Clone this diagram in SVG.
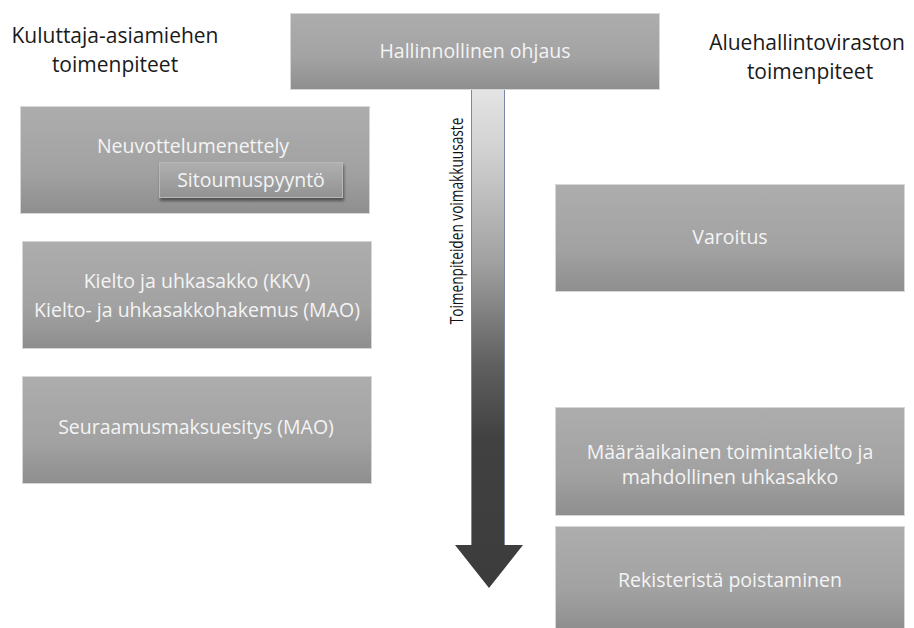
<svg xmlns="http://www.w3.org/2000/svg" width="914" height="628" viewBox="0 0 914 628">
<defs>
<linearGradient id="boxg" x1="0" y1="0" x2="0" y2="1">
<stop offset="0" stop-color="#adadad"/>
<stop offset="0.6" stop-color="#a2a2a2"/>
<stop offset="1" stop-color="#8e8e8e"/>
</linearGradient>
<linearGradient id="smallg" x1="0" y1="0" x2="0" y2="1">
<stop offset="0" stop-color="#b0b0b0"/>
<stop offset="1" stop-color="#929292"/>
</linearGradient>
<linearGradient id="arrg" gradientUnits="userSpaceOnUse" x1="0" y1="89" x2="0" y2="588">
<stop offset="0" stop-color="#e4e4e4"/>
<stop offset="0.12" stop-color="#d2d2d2"/>
<stop offset="0.35" stop-color="#a0a0a0"/>
<stop offset="0.55" stop-color="#606060"/>
<stop offset="0.7" stop-color="#414141"/>
<stop offset="1" stop-color="#3c3c3c"/>
</linearGradient>
<filter id="sh" x="-10%" y="-20%" width="120%" height="160%">
<feDropShadow dx="1" dy="3" stdDeviation="1.5" flood-color="#000" flood-opacity="0.45"/>
</filter>
</defs>
<style>
.box{fill:url(#boxg);stroke:#d6d6d6;stroke-width:1}
.bt{font-family:"Open Sans","Noto Sans",sans-serif;font-size:19.5px;fill:#f4f4f4;text-anchor:middle}
.hd{font-family:"Open Sans","Noto Sans",sans-serif;font-size:21px;fill:#1a1a1a;text-anchor:middle}
</style>
<rect width="914" height="628" fill="#fff"/>
<g id="heading-left">
<text class="hd" x="115" y="43">Kuluttaja-asiamiehen</text>
<text class="hd" x="115" y="72">toimenpiteet</text>
</g>
<g id="heading-right">
<text class="hd" x="807" y="50">Aluehallintoviraston</text>
<text class="hd" x="810" y="79">toimenpiteet</text>
</g>
<g id="connectors">
<path d="M471.5 89.5 H504.5 V545 H523 L489 588 L455 545 H471.5 Z" fill="url(#arrg)"/>
<path d="M471.5 545 V89.5 H504.5 V545" fill="none" stroke="#7a87a8" stroke-width="1"/>
<text font-family="'Open Sans','Noto Sans',sans-serif" font-size="18" fill="#111" text-anchor="middle" transform="translate(463 221) rotate(-90) scale(0.76 1)">Toimenpiteiden voimakkuusaste</text>
</g>
<g id="hallinnollinen">
<rect class="box" x="290.5" y="13.5" width="369" height="76"/>
<text class="bt" x="475" y="58">Hallinnollinen ohjaus</text>
</g>
<g id="neuvottelu">
<rect class="box" x="20.5" y="106.5" width="349" height="107"/>
<text class="bt" x="193" y="153">Neuvottelumenettely</text>
</g>
<g id="sitoumus">
<rect x="159.5" y="162.5" width="183" height="35" fill="url(#smallg)" stroke="#b8b8b8" stroke-width="1" filter="url(#sh)"/>
<text class="bt" x="251" y="187">Sitoumuspyyntö</text>
</g>
<g id="kielto">
<rect class="box" x="22.5" y="241.5" width="349" height="107"/>
<text class="bt" x="197" y="288">Kielto ja uhkasakko (KKV)</text>
<text class="bt" x="197" y="317">Kielto- ja uhkasakkohakemus (MAO)</text>
</g>
<g id="seuraamus">
<rect class="box" x="22.5" y="376.5" width="349" height="107"/>
<text class="bt" x="196" y="434">Seuraamusmaksuesitys (MAO)</text>
</g>
<g id="varoitus">
<rect class="box" x="555.5" y="184.5" width="349" height="107"/>
<text class="bt" x="730" y="244">Varoitus</text>
</g>
<g id="maaraaikainen">
<rect class="box" x="555.5" y="407.5" width="349" height="108"/>
<text class="bt" x="730" y="459">Määräaikainen toimintakielto ja</text>
<text class="bt" x="730" y="484">mahdollinen uhkasakko</text>
</g>
<g id="rekisteri">
<rect class="box" x="555.5" y="526.5" width="349" height="103"/>
<text class="bt" x="730" y="587">Rekisteristä poistaminen</text>
</g>
</svg>
